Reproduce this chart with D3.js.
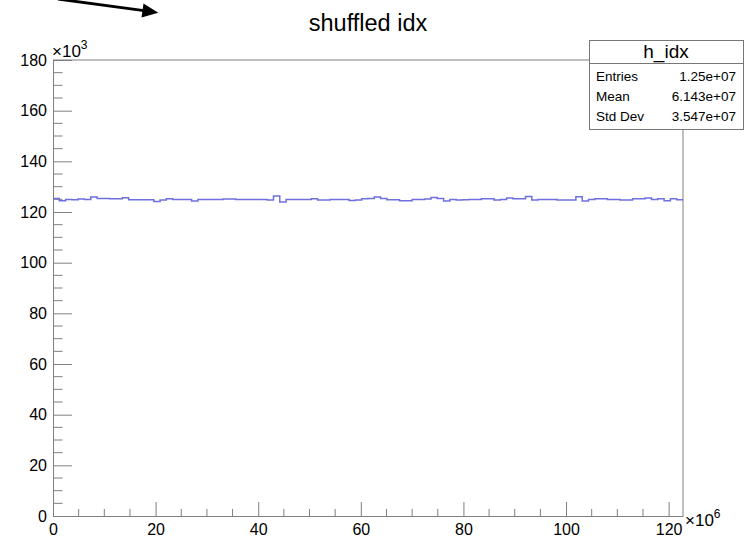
<!DOCTYPE html>
<html>
<head>
<meta charset="utf-8">
<script src="https://cdn.jsdelivr.net/npm/d3@7"></script>
<style>
  html, body { margin: 0; padding: 0; background: #fff; }
  svg { display: block; font-family: "Liberation Sans", Arial, Helvetica, sans-serif; }
</style>
</head>
<body>
<svg id="chart" width="745" height="540"></svg>
<script>
// ---- data ----
const title = "shuffled idx";
const histName = "h_idx";
const xMin = 0, xMax = 122.8;          // ×10^6
const yMin = 0, yMax = 180;            // ×10^3
const nBins = 100;
const binCounts = [
  125350,124430,124950,124820,125090,124950,125880,125350,125350,125220,
  125220,125610,124820,124820,124820,124820,124160,124690,125220,124950,
  124950,124950,124300,124950,124950,124950,124950,125090,125090,124950,
  124950,124950,124950,124950,124690,126270,123900,124950,124950,124950,
  124950,125220,124690,124690,124950,124950,124950,124560,124690,125220,
  125350,125880,125350,124820,124820,124430,124430,124950,124950,125090,
  125740,125350,124300,124950,124690,124820,124950,124950,125220,125220,
  124690,124950,125480,125220,125220,126140,124690,124950,124950,124950,
  124690,124690,124690,126010,124300,124950,125220,125220,124950,124950,
  124690,124690,125220,125220,125480,124950,125220,124430,125220,124820
];
const xMajorTicks = [0, 20, 40, 60, 80, 100, 120];
const yMajorTicks = [0, 20, 40, 60, 80, 100, 120, 140, 160, 180];
const statLabels = ["Entries", "Mean", "Std Dev"];
const statValues = ["1.25e+07", "6.143e+07", "3.547e+07"];

// ---- layout ----
const L = 53, R = 683, T = 60, B = 516;
const svg = d3.select("#chart");
const x = d3.scaleLinear().domain([xMin, xMax]).range([L, R]);
const y = d3.scaleLinear().domain([yMin, yMax]).range([B, T]);
const axisColor = "#7f7f7f";

// minor ticks
const xMinor = d3.range(0, xMax + 1e-9, 5).filter(v => v % 20 !== 0);
const yMinor = d3.range(0, yMax + 1e-9, 5).filter(v => v % 20 !== 0);

// X axis
const gx = svg.append("g").attr("transform", `translate(0,${B})`)
  .call(d3.axisBottom(x).tickValues(xMajorTicks).tickFormat(d3.format("d"))
    .tickSizeInner(-14).tickSizeOuter(0).tickPadding(8));
gx.select(".domain").attr("stroke", axisColor);
gx.selectAll(".tick line").attr("stroke", axisColor);
gx.selectAll(".tick text").attr("font-size", 16).attr("fill", "#000");
svg.append("g").selectAll("line").data(xMinor).join("line")
  .attr("x1", d => x(d)).attr("x2", d => x(d))
  .attr("y1", B).attr("y2", B - 7).attr("stroke", axisColor);

// Y axis
const gy = svg.append("g").attr("transform", `translate(${L},0)`)
  .call(d3.axisLeft(y).tickValues(yMajorTicks).tickFormat(d3.format("d"))
    .tickSizeInner(-19).tickSizeOuter(0).tickPadding(6));
gy.select(".domain").attr("stroke", axisColor);
gy.selectAll(".tick line").attr("stroke", axisColor);
gy.selectAll(".tick text").attr("font-size", 16).attr("fill", "#000");
svg.append("g").selectAll("line").data(yMinor).join("line")
  .attr("x1", L).attr("x2", L + 9.5)
  .attr("y1", d => y(d)).attr("y2", d => y(d)).attr("stroke", axisColor);

// frame top & right
svg.append("line").attr("x1", L).attr("x2", R).attr("y1", T).attr("y2", T).attr("stroke", axisColor);
svg.append("line").attr("x1", R).attr("x2", R).attr("y1", T).attr("y2", B).attr("stroke", axisColor);

// histogram step line
const bw = (xMax - xMin) / nBins;
const pts = [];
binCounts.forEach((c, i) => {
  pts.push([xMin + i * bw, c / 1000]);
  pts.push([xMin + (i + 1) * bw, c / 1000]);
});
svg.append("path").datum(pts)
  .attr("d", d3.line().x(d => x(d[0])).y(d => y(d[1])))
  .attr("fill", "none").attr("stroke", "#6f6fe0").attr("stroke-width", 1.5);

// exponent labels
const e3 = svg.append("text").attr("x", L - 1).attr("y", 57).attr("font-size", 17).attr("fill", "#000");
e3.append("tspan").text("×10");
e3.append("tspan").attr("font-size", 12).attr("dy", -8).text("3");
const e6 = svg.append("text").attr("x", R + 2).attr("y", 526).attr("font-size", 17).attr("fill", "#000");
e6.append("tspan").text("×10");
e6.append("tspan").attr("font-size", 12).attr("dy", -8).text("6");

// title
svg.append("text").attr("x", 368).attr("y", 31).attr("text-anchor", "middle")
  .attr("font-size", 23.5).attr("fill", "#000").text(title);

// stats box
const sb = svg.append("g");
sb.append("rect").attr("x", 589.5).attr("y", 40.5).attr("width", 154).attr("height", 89)
  .attr("fill", "#fff").attr("stroke", "#777");
sb.append("line").attr("x1", 589.5).attr("x2", 743.5).attr("y1", 63.5).attr("y2", 63.5).attr("stroke", "#777");
sb.append("text").attr("x", 666).attr("y", 58).attr("text-anchor", "middle")
  .attr("font-size", 19).attr("fill", "#000").text(histName);
statLabels.forEach((lab, i) => {
  sb.append("text").attr("x", 596).attr("y", 80.5 + i * 20.3).attr("font-size", 13.5).attr("fill", "#000").text(lab);
  sb.append("text").attr("x", 736).attr("y", 80.5 + i * 20.3).attr("text-anchor", "end")
    .attr("font-size", 13.5).attr("fill", "#000").text(statValues[i]);
});

// annotation arrow (top-left)
svg.append("line").attr("x1", 58).attr("y1", -1).attr("x2", 144).attr("y2", 10.7)
  .attr("stroke", "#000").attr("stroke-width", 2.8);
svg.append("polygon").attr("points", "158.3,12.7 143.5,3.6 141.5,17.4").attr("fill", "#000");
</script>
</body>
</html>
